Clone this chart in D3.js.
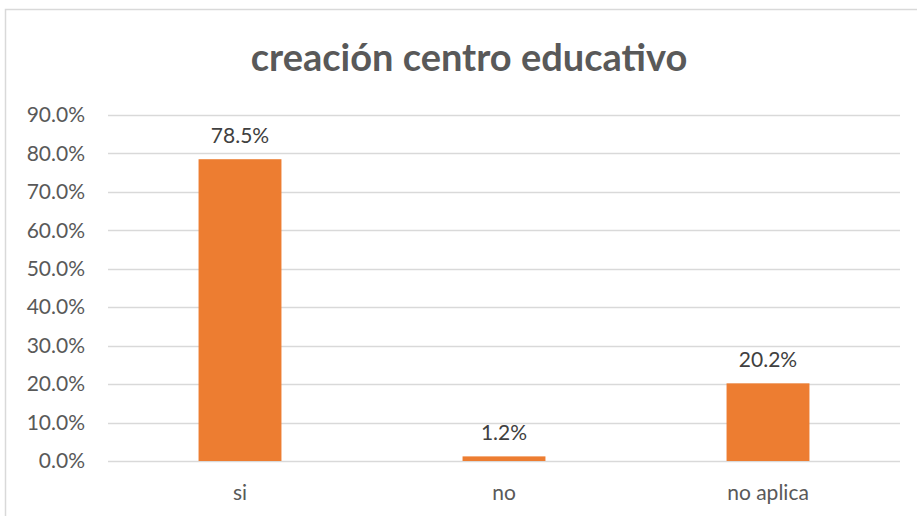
<!DOCTYPE html>
<html>
<head>
<meta charset="utf-8">
<script src="https://cdn.jsdelivr.net/npm/d3@7"></script>
<style>
  body { margin: 0; background: #fff; }
  svg text { font-family: Lato, "Open Sans", sans-serif; }
</style>
</head>
<body>
<div id="chart"></div>
<script>
var categories = ['si', 'no', 'no aplica'];
var values = [0.785, 0.012, 0.202];
var valueLabels = ['78.5%', '1.2%', '20.2%'];
var yTicks = [0, 0.1, 0.2, 0.3, 0.4, 0.5, 0.6, 0.7, 0.8, 0.9];
var title = 'creación centro educativo';

var width = 917, height = 516;
var plotLeft = 108, plotRight = 900, plotTop = 115, plotBottom = 461;

var svg = d3.select('#chart').append('svg')
  .attr('width', width).attr('height', height);

// chart frame
svg.append('rect')
  .attr('x', 5.5).attr('y', 9.5)
  .attr('width', 930).attr('height', 530)
  .attr('fill', '#fff').attr('stroke', '#d9d9d9').attr('stroke-width', 1.5);

svg.append('text')
  .attr('x', 469).attr('y', 71)
  .attr('text-anchor', 'middle')
  .attr('font-size', 38).attr('font-weight', 'bold')
  .attr('fill', '#595959')
  .text(title);

var y = d3.scaleLinear().domain([0, 0.9]).range([plotBottom, plotTop]);
var x = d3.scaleBand().domain(categories).range([plotLeft, plotRight]).padding(0);
var barW = x.bandwidth() * 0.314;

// gridlines
svg.append('g').selectAll('line')
  .data(yTicks).enter().append('line')
  .attr('x1', plotLeft).attr('x2', plotRight)
  .attr('y1', function(d) { return Math.round(y(d)) + 0.5; })
  .attr('y2', function(d) { return Math.round(y(d)) + 0.5; })
  .attr('stroke', '#d9d9d9').attr('stroke-width', 1.5);

// y axis labels
var yAxis = d3.axisLeft(y).tickValues(yTicks).tickSize(0).tickPadding(0)
  .tickFormat(d3.format('.1%'));
var yg = svg.append('g').attr('transform', 'translate(85,0)').call(yAxis);
yg.select('.domain').remove();
yg.selectAll('text')
  .attr('font-size', 21).attr('fill', '#595959')
  .style('font-family', 'Lato, "Open Sans", sans-serif');

// bars
svg.append('g').selectAll('rect')
  .data(values).enter().append('rect')
  .attr('x', function(d, i) { return x(categories[i]) + x.bandwidth() / 2 - barW / 2; })
  .attr('width', barW)
  .attr('y', function(d) { return y(d); })
  .attr('height', function(d) { return plotBottom - y(d); })
  .attr('fill', '#ed7d31');

// value labels
svg.append('g').selectAll('text')
  .data(values).enter().append('text')
  .attr('x', function(d, i) { return x(categories[i]) + x.bandwidth() / 2; })
  .attr('y', function(d) { return y(d) - 16; })
  .attr('text-anchor', 'middle')
  .attr('font-size', 21).attr('fill', '#404040')
  .text(function(d, i) { return valueLabels[i]; });

// x axis labels
var xAxis = d3.axisBottom(x).tickSize(0).tickPadding(0);
var xg = svg.append('g').attr('transform', 'translate(0,' + (plotBottom + 39) + ')').call(xAxis);
xg.select('.domain').remove();
xg.selectAll('text')
  .attr('font-size', 21).attr('fill', '#595959').attr('dy', 0)
  .style('font-family', 'Lato, "Open Sans", sans-serif');
</script>
</body>
</html>
